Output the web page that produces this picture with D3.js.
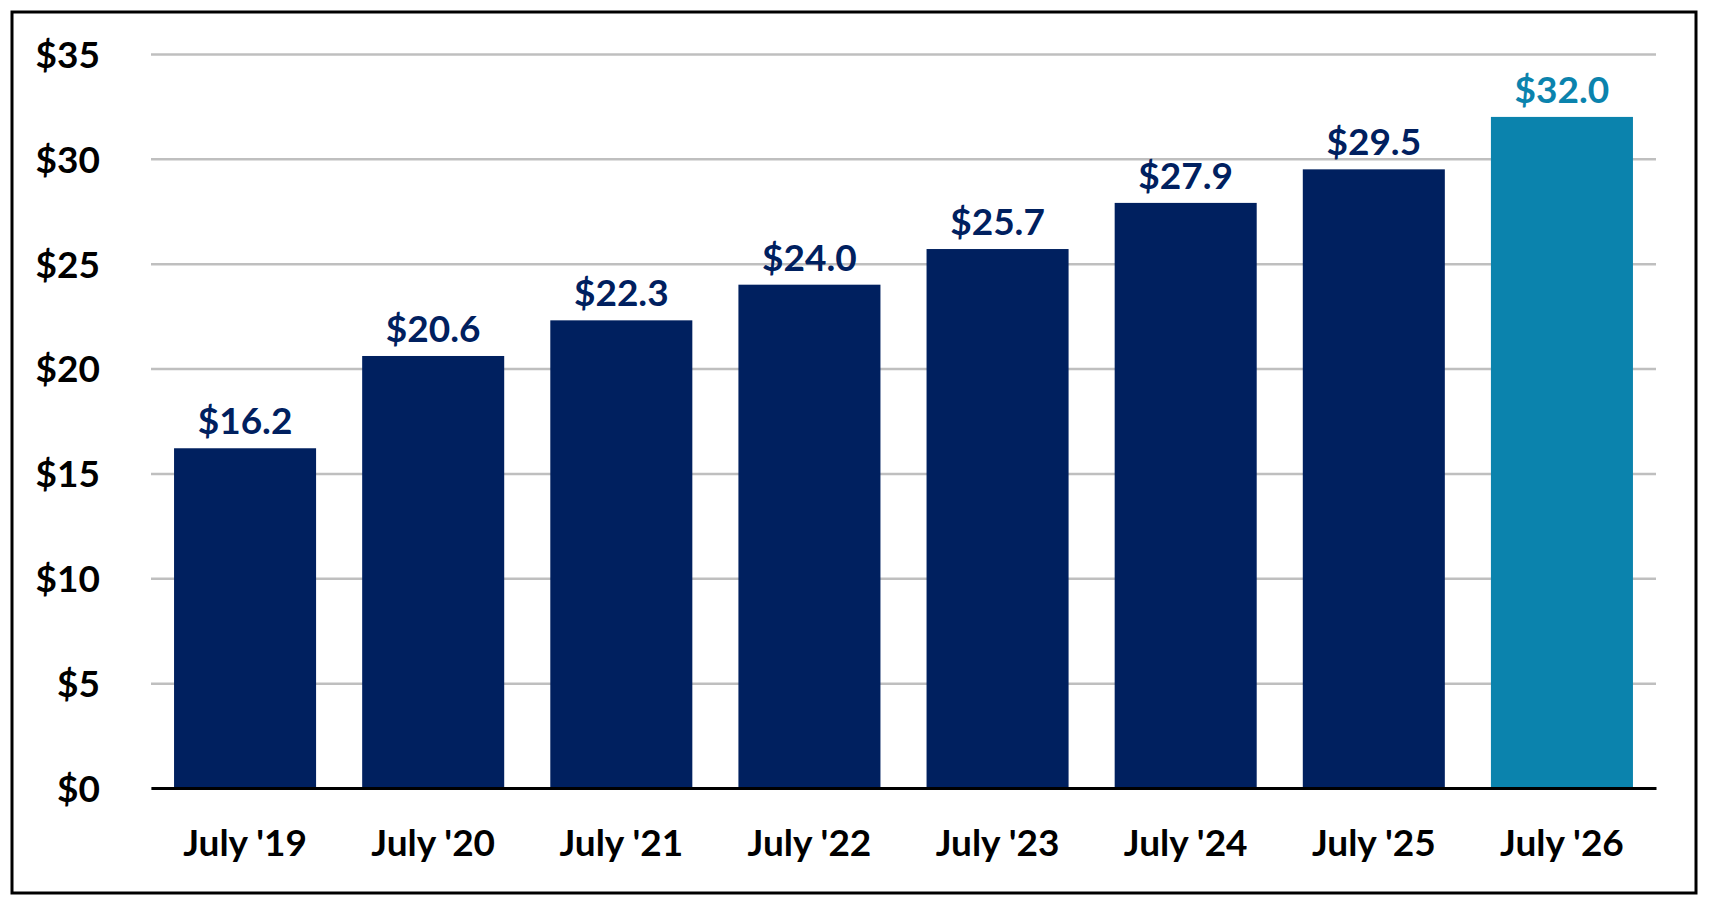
<!DOCTYPE html>
<html>
<head>
<meta charset="utf-8">
<script src="https://cdn.jsdelivr.net/npm/d3@7"></script>
<style>
  body { margin: 0; background: #fff; }
  svg { display: block; font-family: Lato, "Open Sans", sans-serif; font-weight: bold; }
</style>
</head>
<body>
<svg id="chart"></svg>
<script>
var categories = ["July '19", "July '20", "July '21", "July '22", "July '23", "July '24", "July '25", "July '26"];
var values = [16.2, 20.6, 22.3, 24.0, 25.7, 27.9, 29.5, 32.0];
var yTicks = [0, 5, 10, 15, 20, 25, 30, 35];

var dimensions = {
    width: 1711,
    height: 898,
    margin: { top: 54, bottom: 110, right: 55, left: 151 }
}

var dataset = categories.map((c, i) => ({ cat: c, value: values[i], last: i == categories.length - 1 }))

var svg = d3.select("#chart")
            .attr("width", dimensions.width)
            .attr("height", dimensions.height)

// outer frame
svg.append("rect")
   .attr("x", 12).attr("y", 12)
   .attr("width", 1684).attr("height", 881)
   .attr("fill", "none")
   .attr("stroke", "#000")
   .attr("stroke-width", 3)

var xScale = d3.scaleBand()
               .domain(categories)
               .range([dimensions.margin.left, dimensions.width - dimensions.margin.right])
               .paddingInner(0.245)
               .paddingOuter(0.1225)

var yScale = d3.scaleLinear()
               .domain([0, 35])
               .range([dimensions.height - dimensions.margin.bottom, dimensions.margin.top])

var yAxisGen = d3.axisLeft(yScale)
                 .tickValues(yTicks)
                 .tickFormat(d => "$" + d)
                 .tickSize(-(dimensions.width - dimensions.margin.right - dimensions.margin.left))
                 .tickPadding(51)

var yAxis = svg.append("g")
               .attr("transform", `translate(${dimensions.margin.left},0)`)
               .call(yAxisGen)
yAxis.select(".domain").remove()
yAxis.selectAll("line").attr("stroke", "#bfbfbf").attr("stroke-width", 2.5)
yAxis.selectAll("text")
     .attr("fill", "#000")
     .style("font-size", "37px")
     .style("font-family", "Lato, sans-serif")
     .style("font-weight", "bold")
     .attr("dy", "0.36em")

var colors = d => d.last ? "#0b83ad" : "#00205f"

svg.append("g")
   .selectAll("rect")
   .data(dataset)
   .enter()
   .append("rect")
   .attr("x", d => xScale(d.cat))
   .attr("width", xScale.bandwidth())
   .attr("y", d => yScale(d.value))
   .attr("height", d => yScale(0) - yScale(d.value))
   .attr("fill", colors)

svg.append("g")
   .selectAll("text")
   .data(dataset)
   .enter()
   .append("text")
   .attr("x", d => xScale(d.cat) + xScale.bandwidth() / 2)
   .attr("y", d => yScale(d.value) - 14)
   .attr("text-anchor", "middle")
   .attr("fill", colors)
   .style("font-size", "37px")
   .text(d => "$" + d.value.toFixed(1))

var xAxisGen = d3.axisBottom(xScale).tickSize(0).tickSizeOuter(0).tickPadding(42)
var xAxis = svg.append("g")
               .attr("transform", `translate(0,${yScale(0)})`)
               .call(xAxisGen)
xAxis.select(".domain").attr("stroke", "#000").attr("stroke-width", 3)
xAxis.selectAll("text")
     .attr("fill", "#000")
     .style("font-size", "37px")
     .style("font-family", "Lato, sans-serif")
     .style("font-weight", "bold")
</script>
</body>
</html>
